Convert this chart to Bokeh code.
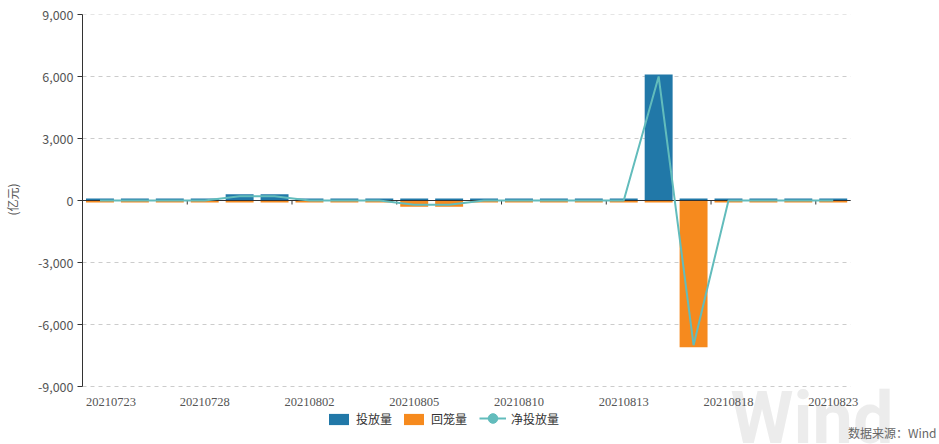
from bokeh.plotting import figure
from bokeh.models import (Range1d, FixedTicker, NumeralTickFormatter, Legend,
                          LegendItem, Label, ColumnDataSource)
from bokeh.embed import file_html
from bokeh.resources import INLINE

# ---- data (亿元) ----
dates = ["20210723", "20210726", "20210727", "20210728", "20210729", "20210730",
         "20210802", "20210803", "20210804", "20210805", "20210806", "20210809",
         "20210810", "20210811", "20210812", "20210813", "20210816", "20210817",
         "20210818", "20210819", "20210820", "20210823"]
injection = [100, 100, 100, 100, 300, 300, 100, 100, 100, 100, 100, 100,
             100, 100, 100, 100, 6100, 100, 100, 100, 100, 100]
withdrawal = [100, 100, 100, 100, 100, 100, 100, 100, 100, 300, 300, 100,
              100, 100, 100, 100, 100, 7100, 100, 100, 100, 100]
net_injection = [0, 0, 0, 0, 200, 200, 0, 0, 0, -200, -200, 0,
                 0, 0, 0, 0, 6000, -7000, 0, 0, 0, 0]
y_ticks = [-9000, -6000, -3000, 0, 3000, 6000, 9000]
label_every = 3

FONT = "Noto Sans CJK SC"
BLUE = "#2178a8"
ORANGE = "#f68a1e"
TEAL = "#62bcbc"

# ---- layout (pixels) ----
W, H = 939, 444
LEFT, RIGHT, TOP = 80, 850, 14        # plot area edges
AXIS_BOTTOM = 386                      # where y_ticks[0] sits
n = len(dates)
units_per_px = (y_ticks[-1] - y_ticks[0]) / (AXIS_BOTTOM - TOP)
y_min = y_ticks[0] - (H - AXIS_BOTTOM) * units_per_px
x_end = (n - 0.5) + (W - RIGHT) * n / (RIGHT - LEFT)

xs = list(range(n))
src = ColumnDataSource(dict(x=xs, inj=injection,
                            wd=[-v for v in withdrawal], net=net_injection))

p = figure(width=W, height=H, output_backend="svg", toolbar_location=None,
           x_range=Range1d(-0.5, x_end), y_range=Range1d(y_min, y_ticks[-1]),
           x_axis_location=None,
           min_border_left=LEFT, min_border_right=0, min_border_top=TOP,
           min_border_bottom=0)
p.outline_line_color = None
p.xgrid.visible = False
p.ygrid.visible = False

# faint watermark
p.add_layout(Label(x=648, y=26, x_units="screen", y_units="screen", text="Wind",
                   text_font="Roboto", text_font_size="72px", text_font_style="bold",
                   text_color="#ececec", text_baseline="alphabetic", level="underlay"))

# dashed horizontal grid lines over the category span
grid_y = [t for t in y_ticks if t != 0]
p.segment(x0=[-0.5] * len(grid_y), x1=[n - 0.5] * len(grid_y), y0=grid_y, y1=grid_y,
          line_color="#cccccc", line_width=1, line_dash="4 4")

bar_inj = p.vbar(x="x", top="inj", bottom=0, width=0.8, source=src,
                 fill_color=BLUE, line_color=None)
bar_wd = p.vbar(x="x", top="wd", bottom=0, width=0.8, source=src,
                fill_color=ORANGE, line_color=None)

# zero axis line with category ticks
tick_x = [i + 2.5 for i in range(0, n - 1, label_every) if i + 2.5 < n - 0.5]
p.segment(x0=[-0.5], x1=[n - 0.5], y0=[0], y1=[0], line_color="#333333", line_width=1)
p.segment(x0=tick_x, x1=tick_x, y0=[0] * len(tick_x),
          y1=[-4 * units_per_px] * len(tick_x), line_color="#333333", line_width=1)

net_line = p.line(x="x", y="net", source=src, line_color=TEAL, line_width=2)
net_dots = p.scatter(x="x", y="net", source=src, marker="circle", size=10,
                     fill_color=TEAL, line_color=TEAL, visible=False)

# category labels under the plot area
label_idx = list(range(0, n, label_every))
p.text(x=label_idx, y=[y_ticks[0]] * len(label_idx), text=[dates[i] for i in label_idx],
       text_align="center", text_baseline="top", y_offset=11,
       x_offset=[11] + [0] * (len(label_idx) - 1),
       text_font=FONT, text_font_size="12.5px", text_color="#555555")

# y axis
ya = p.yaxis[0]
ya.bounds = (y_ticks[0], y_ticks[-1])
ya.ticker = FixedTicker(ticks=y_ticks)
ya.formatter = NumeralTickFormatter(format="0,0")
ya.axis_line_color = "#333333"
ya.major_tick_line_color = "#333333"
ya.major_tick_in = 0
ya.major_tick_out = 5
ya.minor_tick_line_color = None
ya.major_label_standoff = 4
ya.major_label_text_font = FONT
ya.major_label_text_font_size = "12.5px"
ya.major_label_text_color = "#555555"
ya.axis_label = "\u3000" * 5 + "(亿元)"
ya.axis_label_text_font = FONT
ya.axis_label_text_font_size = "12px"
ya.axis_label_text_font_style = "normal"
ya.axis_label_text_color = "#555555"
ya.axis_label_standoff = 14

common = dict(orientation="horizontal", label_standoff=5, spacing=9, padding=0,
              margin=0, border_line_alpha=0, background_fill_alpha=0,
              label_text_font=FONT, label_text_font_size="12px",
              label_text_color="#333333")
legend_bars = Legend(items=[LegendItem(label="投放量", renderers=[bar_inj]),
                            LegendItem(label="回笼量", renderers=[bar_wd])],
                     location=(324 - LEFT, 17), glyph_width=25, glyph_height=14,
                     label_height=14, **common)
legend_line = Legend(items=[LegendItem(label="净投放量", renderers=[net_line, net_dots])],
                     location=(477 - LEFT, 14), glyph_width=27, glyph_height=24,
                     label_height=14, **common)
p.add_layout(legend_bars)
p.add_layout(legend_line)

p.add_layout(Label(x=934 - LEFT, y=H - 432, x_units="screen", y_units="screen",
                   text="数据来源：Wind", text_font=FONT, text_font_size="12px",
                   text_color="#666666", text_align="right", text_baseline="middle"))

open("out.html", "w").write(file_html(p, INLINE))
